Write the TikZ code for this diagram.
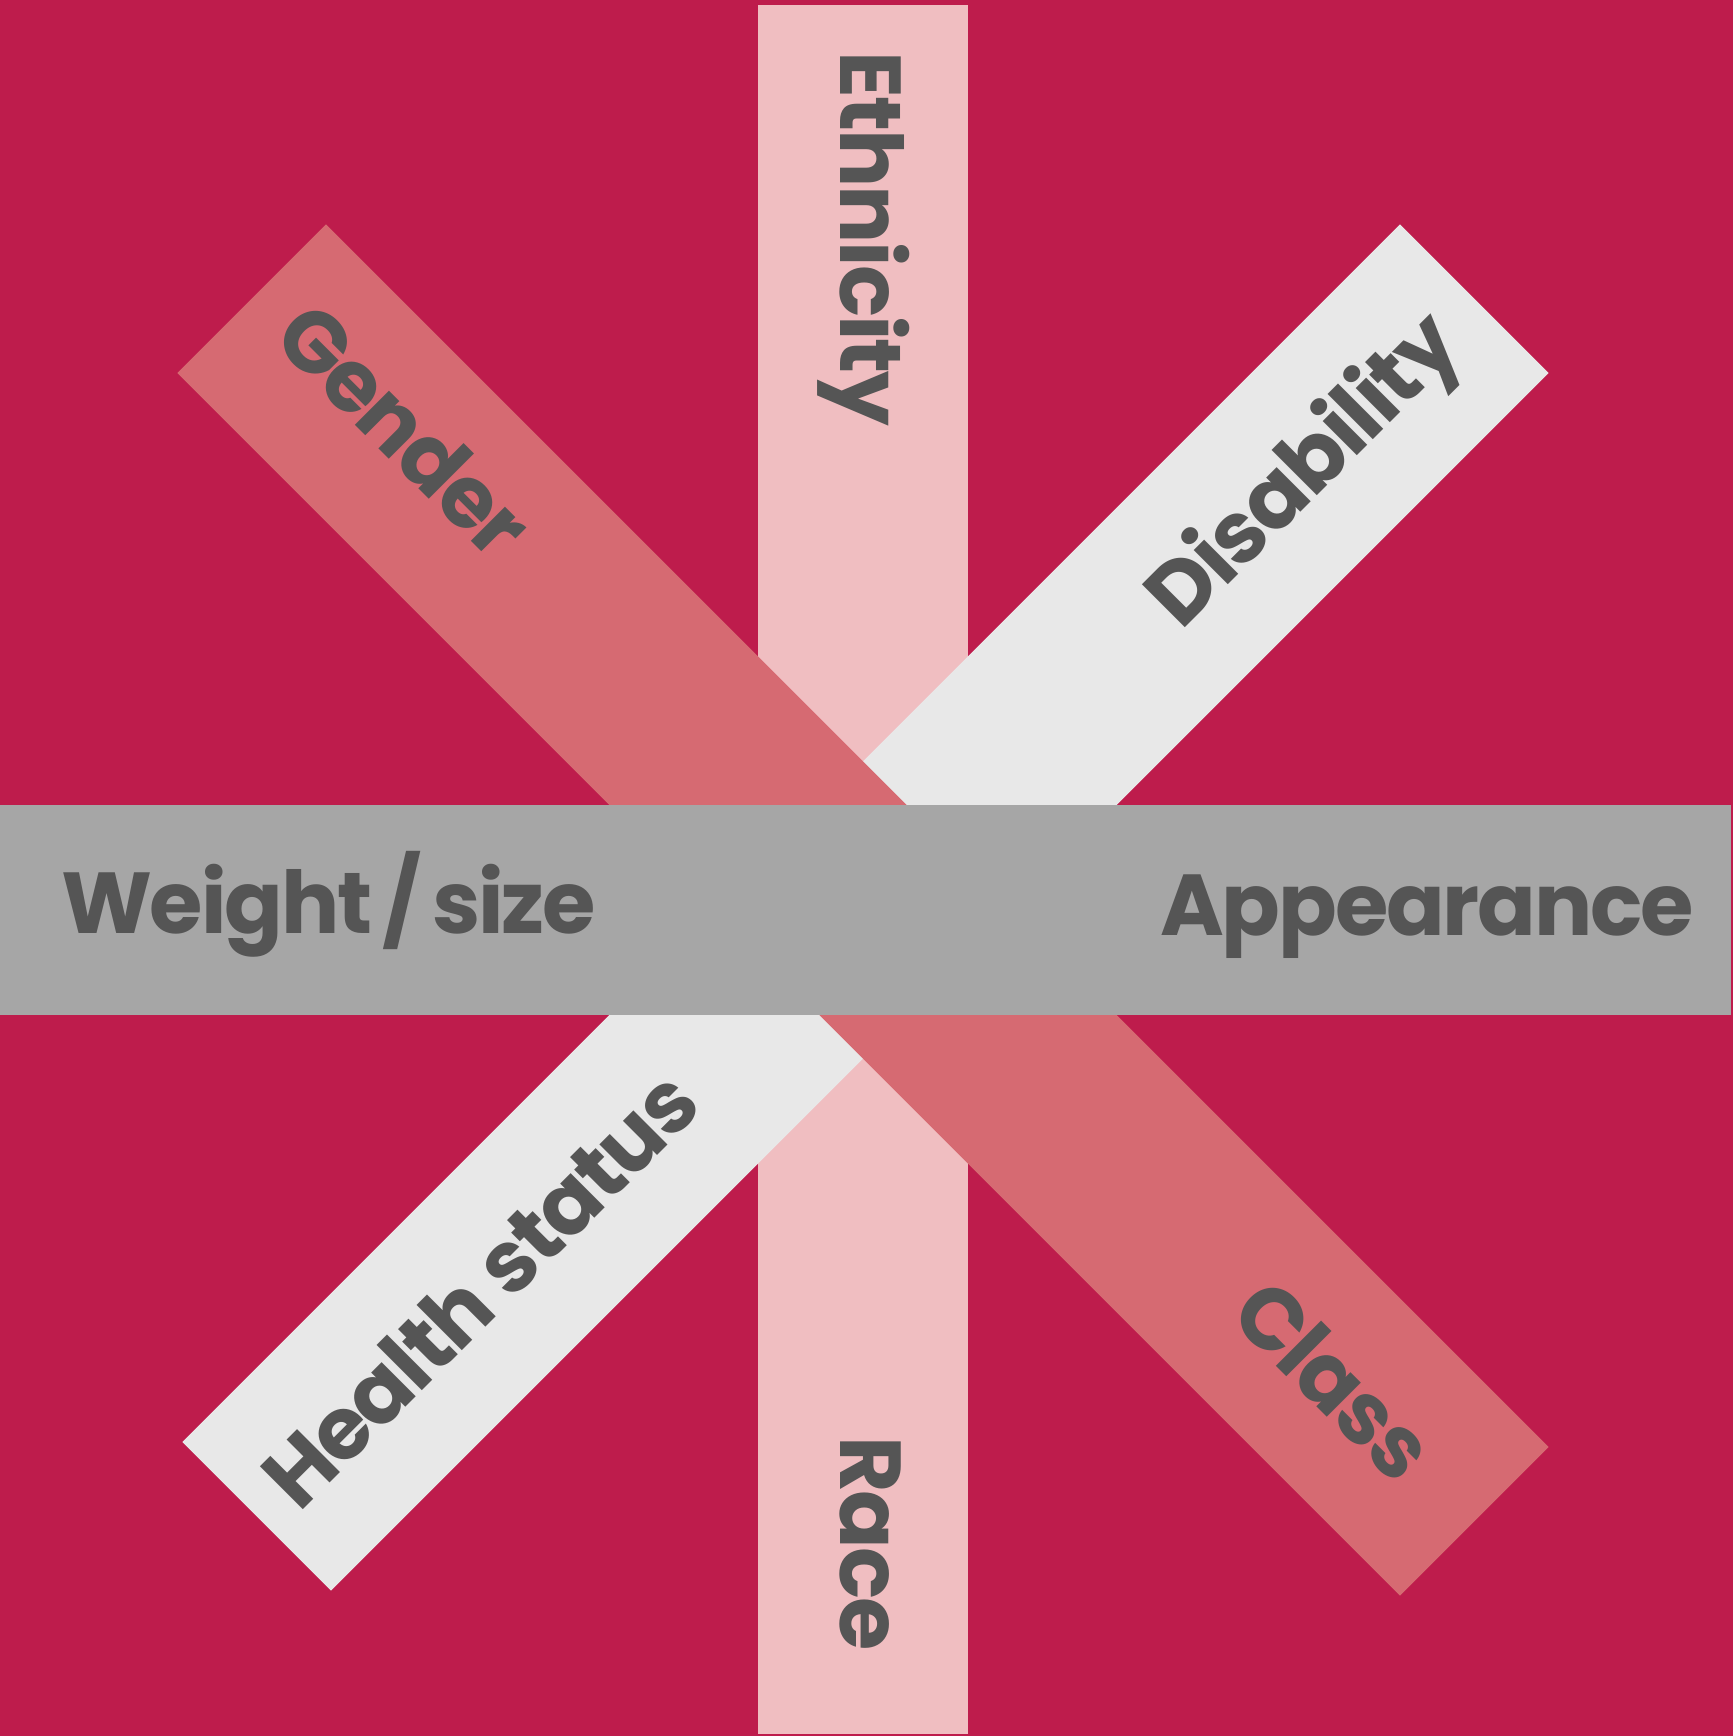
\documentclass[tikz,border=0pt]{standalone}
\usepackage{fontspec}
\newfontfamily\lblfont{Poppins}[LetterSpace=-2.5]
\usepackage{tikz}
\usetikzlibrary{positioning}

\definecolor{bgcrimson}{HTML}{BE1C4C}
\definecolor{barpink}{HTML}{F0BEC1}
\definecolor{barrose}{HTML}{D66A72}
\definecolor{barlight}{HTML}{E8E8E8}
\definecolor{bargray}{HTML}{A6A6A6}
\definecolor{txtgray}{HTML}{555555}

\begin{document}
\begin{tikzpicture}[
        x=0.01cm, y=-0.01cm,
        bar/.style={rectangle, inner sep=0pt, outer sep=0pt, draw=none},
        lbl/.style={font=\lblfont\bfseries\fontsize{24.6}{28}\selectfont, text=txtgray, inner sep=0pt, anchor=base}
    ]
        % Background
        \fill[bgcrimson] (0,0) rectangle (1733,1736);
        \useasboundingbox (0,0) rectangle (1733,1736);

        % Bars (back to front)
        \node[bar, fill=barpink, minimum width=2.10cm, minimum height=17.27cm] (ethnicbar) at (863,869.5) {};
        \node[bar, fill=barlight, minimum width=17.21cm, minimum height=2.10cm, rotate=45] (disabbar) at (865.5,907.5) {};
        \node[bar, fill=barrose, minimum width=17.28cm, minimum height=2.10cm, rotate=-45] (genderbar) at (863,910) {};
        \node[bar, fill=bargray, minimum width=17.29cm, minimum height=2.10cm] (weightbar) at (865.5,910) {};

        % Labels
        \node[lbl] (weight) at (328.5,933) {Weight\kern3pt/\kern3pt size};
        \node[lbl] (appear) at (1427,935.5) {Appearance};
        \node[lbl, rotate=-90] (ethnic) at (840,239) {Ethnicity};
        \node[lbl, rotate=-90] (race) at (840,1543.5) {Race};
        \node[lbl, rotate=-45] (gender) at (382,452) {Gender};
        \node[lbl, rotate=-45] (class) at (1312,1402) {Class};
        \node[lbl, rotate=45] (disab) at (1323,490) {Disability};
        \node[lbl, rotate=45] (health) at (502,1311) {Health status};
    \end{tikzpicture}
\end{document}
